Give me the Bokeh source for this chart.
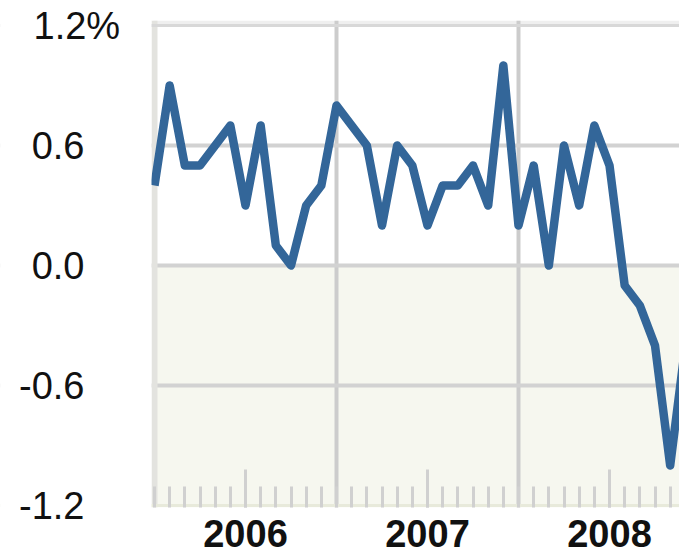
from bokeh.plotting import figure
from bokeh.models import FixedTicker, Grid, BoxAnnotation, Range1d
from bokeh.core.properties import value
from bokeh.embed import file_html
from bokeh.resources import INLINE

# ---- data ----
months = [f"{y}-{m:02d}" for y in (2006, 2007, 2008) for m in range(1, 13)]
changes = [0.4, 0.9, 0.5, 0.5, 0.6, 0.7, 0.3, 0.7, 0.1, 0.0, 0.3, 0.4,
           0.8, 0.7, 0.6, 0.2, 0.6, 0.5, 0.2, 0.4, 0.4, 0.5, 0.3, 1.0,
           0.2, 0.5, 0.0, 0.6, 0.3, 0.7, 0.5, -0.1, -0.2, -0.4, -1.0, -0.4]
years = ["2006", "2007", "2008"]
y_ticks = [-1.2, -0.6, 0.0, 0.6, 1.2]
y_tick_labels = ["-1.2", "-0.6", "0.0", "0.6", "1.2%"]

x = list(range(len(months)))
year_mid = [months.index(f"{y}-07") for y in years]
year_start = [months.index(f"{y}-01") for y in years]

PX = 15.167               # pixels per month
LEFT = 153                # pixel where the plotting area starts
x0 = -1.0 / PX            # data x at the plotting area's left edge
xs = x0 - LEFT / PX       # frame covers the label column too
xe = x0 + 526.0 / PX

p = figure(width=679, height=557, output_backend="svg", toolbar_location=None,
           x_range=Range1d(xs, xe), y_range=Range1d(-1.21, 1.225),
           min_border_left=0, min_border_right=0, min_border_top=20,
           min_border_bottom=50)
p.outline_line_color = None
p.background_fill_color = "white"
p.border_fill_color = "white"
p.yaxis.visible = False

# backgrounds
p.add_layout(BoxAnnotation(top=0, left=x0, fill_color="#f6f7ef", fill_alpha=1,
                           line_color=None, level="image"))
p.add_layout(BoxAnnotation(bottom=y_ticks[-1], left=x0, fill_color="#efefef",
                           fill_alpha=1, line_color=None, level="image"))

# grids
p.xgrid.ticker = FixedTicker(ticks=year_start[1:])
p.xgrid.grid_line_color = "#cccccc"
p.xgrid.grid_line_width = 4
p.ygrid.ticker = FixedTicker(ticks=y_ticks[1:-1])
p.ygrid.grid_line_color = "#d2d2d2"
p.ygrid.grid_line_width = 4
p.add_layout(Grid(dimension=0, ticker=FixedTicker(ticks=year_start[:1]),
                  grid_line_color="#e3e3df", grid_line_width=6))
p.add_layout(Grid(dimension=1, ticker=FixedTicker(ticks=y_ticks[-1:]),
                  grid_line_color="#d8d8d8", grid_line_width=3))
p.add_layout(Grid(dimension=1, ticker=FixedTicker(ticks=y_ticks[:1]),
                  grid_line_color="#e8eadb", grid_line_width=3))

# white mask over the label column (hides grid lines there)
p.add_layout(BoxAnnotation(left=xs - 20.0 / PX, right=x0 - 2.0 / PX,
                           fill_color="white", fill_alpha=1,
                           line_color=None, level="glyph"))

# x axis: ticks inside the frame, year labels at mid-year
xa = p.xaxis[0]
xa.ticker = FixedTicker(ticks=year_mid, minor_ticks=x)
xa.axis_line_color = None
xa.major_tick_in = 38
xa.major_tick_out = 0
xa.minor_tick_in = 21
xa.minor_tick_out = 0
xa.major_tick_line_color = "#d0d0d0"
xa.minor_tick_line_color = "#d0d0d0"
xa.major_tick_line_width = 3
xa.minor_tick_line_width = 3
xa.major_label_overrides = {m: y for m, y in zip(year_mid, years)}
xa.major_label_text_font = "Liberation Sans"
xa.major_label_text_font_style = "bold"
xa.major_label_text_font_size = "38px"
xa.major_label_text_color = "#111111"
xa.major_label_standoff = 12

# y tick labels: numbers right-aligned, the top one ("1.2%") left-aligned
lab_style = dict(text_font=value("Liberation Sans"), text_font_size="38px",
                 text_color="#111111", text_baseline="middle", level="overlay")
p.text(x=x0 - 69.0 / PX, y=y_ticks[:-1], text=y_tick_labels[:-1],
       text_align="right", **lab_style)
p.text(x=x0 - 120.0 / PX, y=y_ticks[-1:], text=y_tick_labels[-1:],
       text_align="left", **lab_style)

# the series
p.line(x, changes, line_color="#336699", line_width=8.5, line_join="round")

open("out.html", "w").write(file_html(p, INLINE))
